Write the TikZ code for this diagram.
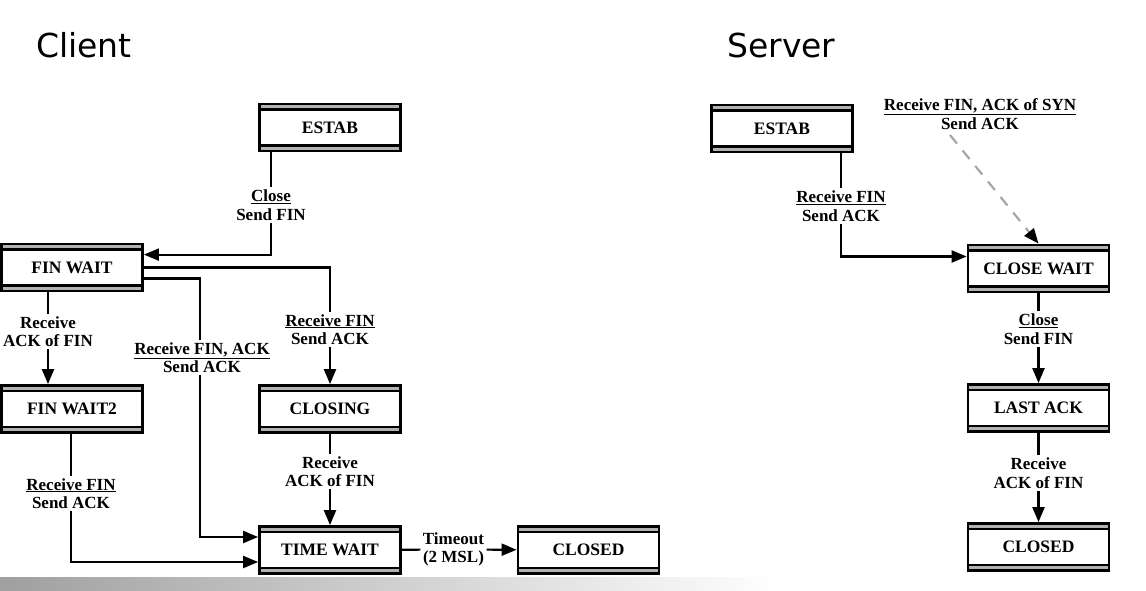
\documentclass[tikz,border=0pt]{standalone}
\usepackage{fontspec}
\setmainfont{Liberation Serif}
\newfontfamily\titlefont{DejaVu Sans}
\usetikzlibrary{arrows.meta}
\begin{document}
\begin{tikzpicture}[x=1pt,y=-1pt]
\def\lbl#1#2{\underline{#1}\\#2}
\tikzstyle{state}=[draw,line width=2.8pt,minimum width=141pt,minimum height=47pt,inner sep=0pt,
  font=\fontsize{17.5}{19}\selectfont\bfseries,
  path picture={
    \fill[gray!60] (path picture bounding box.north west) rectangle ([yshift=-5pt]path picture bounding box.north east);
    \fill[gray!60] (path picture bounding box.south west) rectangle ([yshift=5pt]path picture bounding box.south east);
    \draw[line width=2.2pt] ([yshift=-5.5pt]path picture bounding box.north west) -- ([yshift=-5.5pt]path picture bounding box.north east);
    \draw[line width=2.2pt] ([yshift=5.5pt]path picture bounding box.south west) -- ([yshift=5.5pt]path picture bounding box.south east);
  }];
\tikzstyle{lab}=[align=center,inner sep=2.5pt,font=\fontsize{17}{18.5}\selectfont\bfseries];
\tikzstyle{seg}=[line width=2.2pt];
\tikzstyle{arr}=[line width=2.2pt,-{Triangle[length=15pt,width=12pt]}];
\tikzstyle{title}=[anchor=base west,inner sep=0pt,font=\titlefont\fontsize{33}{36}\selectfont];

\useasboundingbox (0,0) rectangle (1146,591);
\shade[left color=gray!75,right color=white] (0,577) rectangle (780,591);

\node [title] (tclient) at (36,58) {Client};
\node [title] (tserver) at (727,58) {Server};

%% client side

\node [state] (cestab) at (330,127.5) {ESTAB};
\node [state] (cfinwait) at (72,267.5) {FIN WAIT};
\node [state] (cfinwait2) at (72,409) {FIN WAIT2};
\node [state] (cclosing) at (330,409) {CLOSING};
\node [state] (ctimewait) at (330,550) {TIME WAIT};
\node [state] (cclosed) at (588.5,550) {CLOSED};

\node [lab] (lclose) at (271,205) {\lbl{Close}{Send FIN}};
\node [lab] (lfw) at (48,331.5) {Receive\\ACK of FIN};
\node [lab] (lfw2) at (71,493.5) {\lbl{Receive FIN}{Send ACK}};
\node [lab] (lfinack) at (202,357.5) {\lbl{Receive FIN, ACK}{Send ACK}};
\node [lab] (lcl) at (330,329.5) {\lbl{Receive FIN}{Send ACK}};
\node [lab] (lclack) at (330,471.5) {Receive\\ACK of FIN};
\node [lab] (ltimeout) at (453.5,549.5) {Timeout\\(2 MSL)};

\draw [seg] (cestab.south -| lclose) -- (lclose);
\draw [arr] (lclose) |- ([yshift=-12pt]cfinwait.north east);

\draw [seg] (cfinwait.east) -| (lcl);
\draw [arr] (lcl) -- (cclosing);

\draw [seg] ([yshift=-11pt]cfinwait.east) -| (lfinack.north -| 200,0);
\draw [arr] (lfinack.south -| 200,0) |- ([yshift=13pt]ctimewait.west);

\draw [seg] (cfinwait.south -| lfw) -- (lfw);
\draw [arr] (lfw) -- (lfw |- cfinwait2.north);

\draw [seg] (cfinwait2.south -| lfw2) -- (lfw2);
\draw [arr] (lfw2) |- ([yshift=-12pt]ctimewait.west);

\draw [seg] (cclosing) -- (lclack);
\draw [arr] (lclack) -- (ctimewait);

\draw [seg] (ctimewait) -- (ltimeout);
\draw [arr] (ltimeout) -- (cclosed);

%% server side

\node [state] (sestab) at (782,128.5) {ESTAB};
\node [state] (sclosewait) at (1038.5,268.5) {CLOSE WAIT};
\node [state] (slastack) at (1038.5,408) {LAST ACK};
\node [state] (sclosed) at (1038.5,547) {CLOSED};

\node [lab] (lrf) at (841,206) {\lbl{Receive FIN}{Send ACK}};
\node [lab] (lsyn) at (980,114) {\lbl{Receive FIN, ACK of SYN}{Send ACK}};
\node [lab] (lscl) at (1038.5,329) {\lbl{Close}{Send FIN}};
\node [lab] (lsack) at (1038.5,473) {Receive\\ACK of FIN};
\coordinate (synstart) at (950,135);

\draw [seg] (sestab.south -| lrf) -- (lrf);
\draw [arr] (lrf) |- ([yshift=12pt]sclosewait.west);

\draw [arr,gray!70,dash pattern=on 11pt off 9pt,-{Triangle[length=15pt,width=12pt,color=black]}] (synstart) -- (sclosewait.north);

\draw [seg] (sclosewait) -- (lscl);
\draw [arr] (lscl) -- (slastack);

\draw [seg] (slastack) -- (lsack);
\draw [arr] (lsack) -- (sclosed);
\end{tikzpicture}
\end{document}
